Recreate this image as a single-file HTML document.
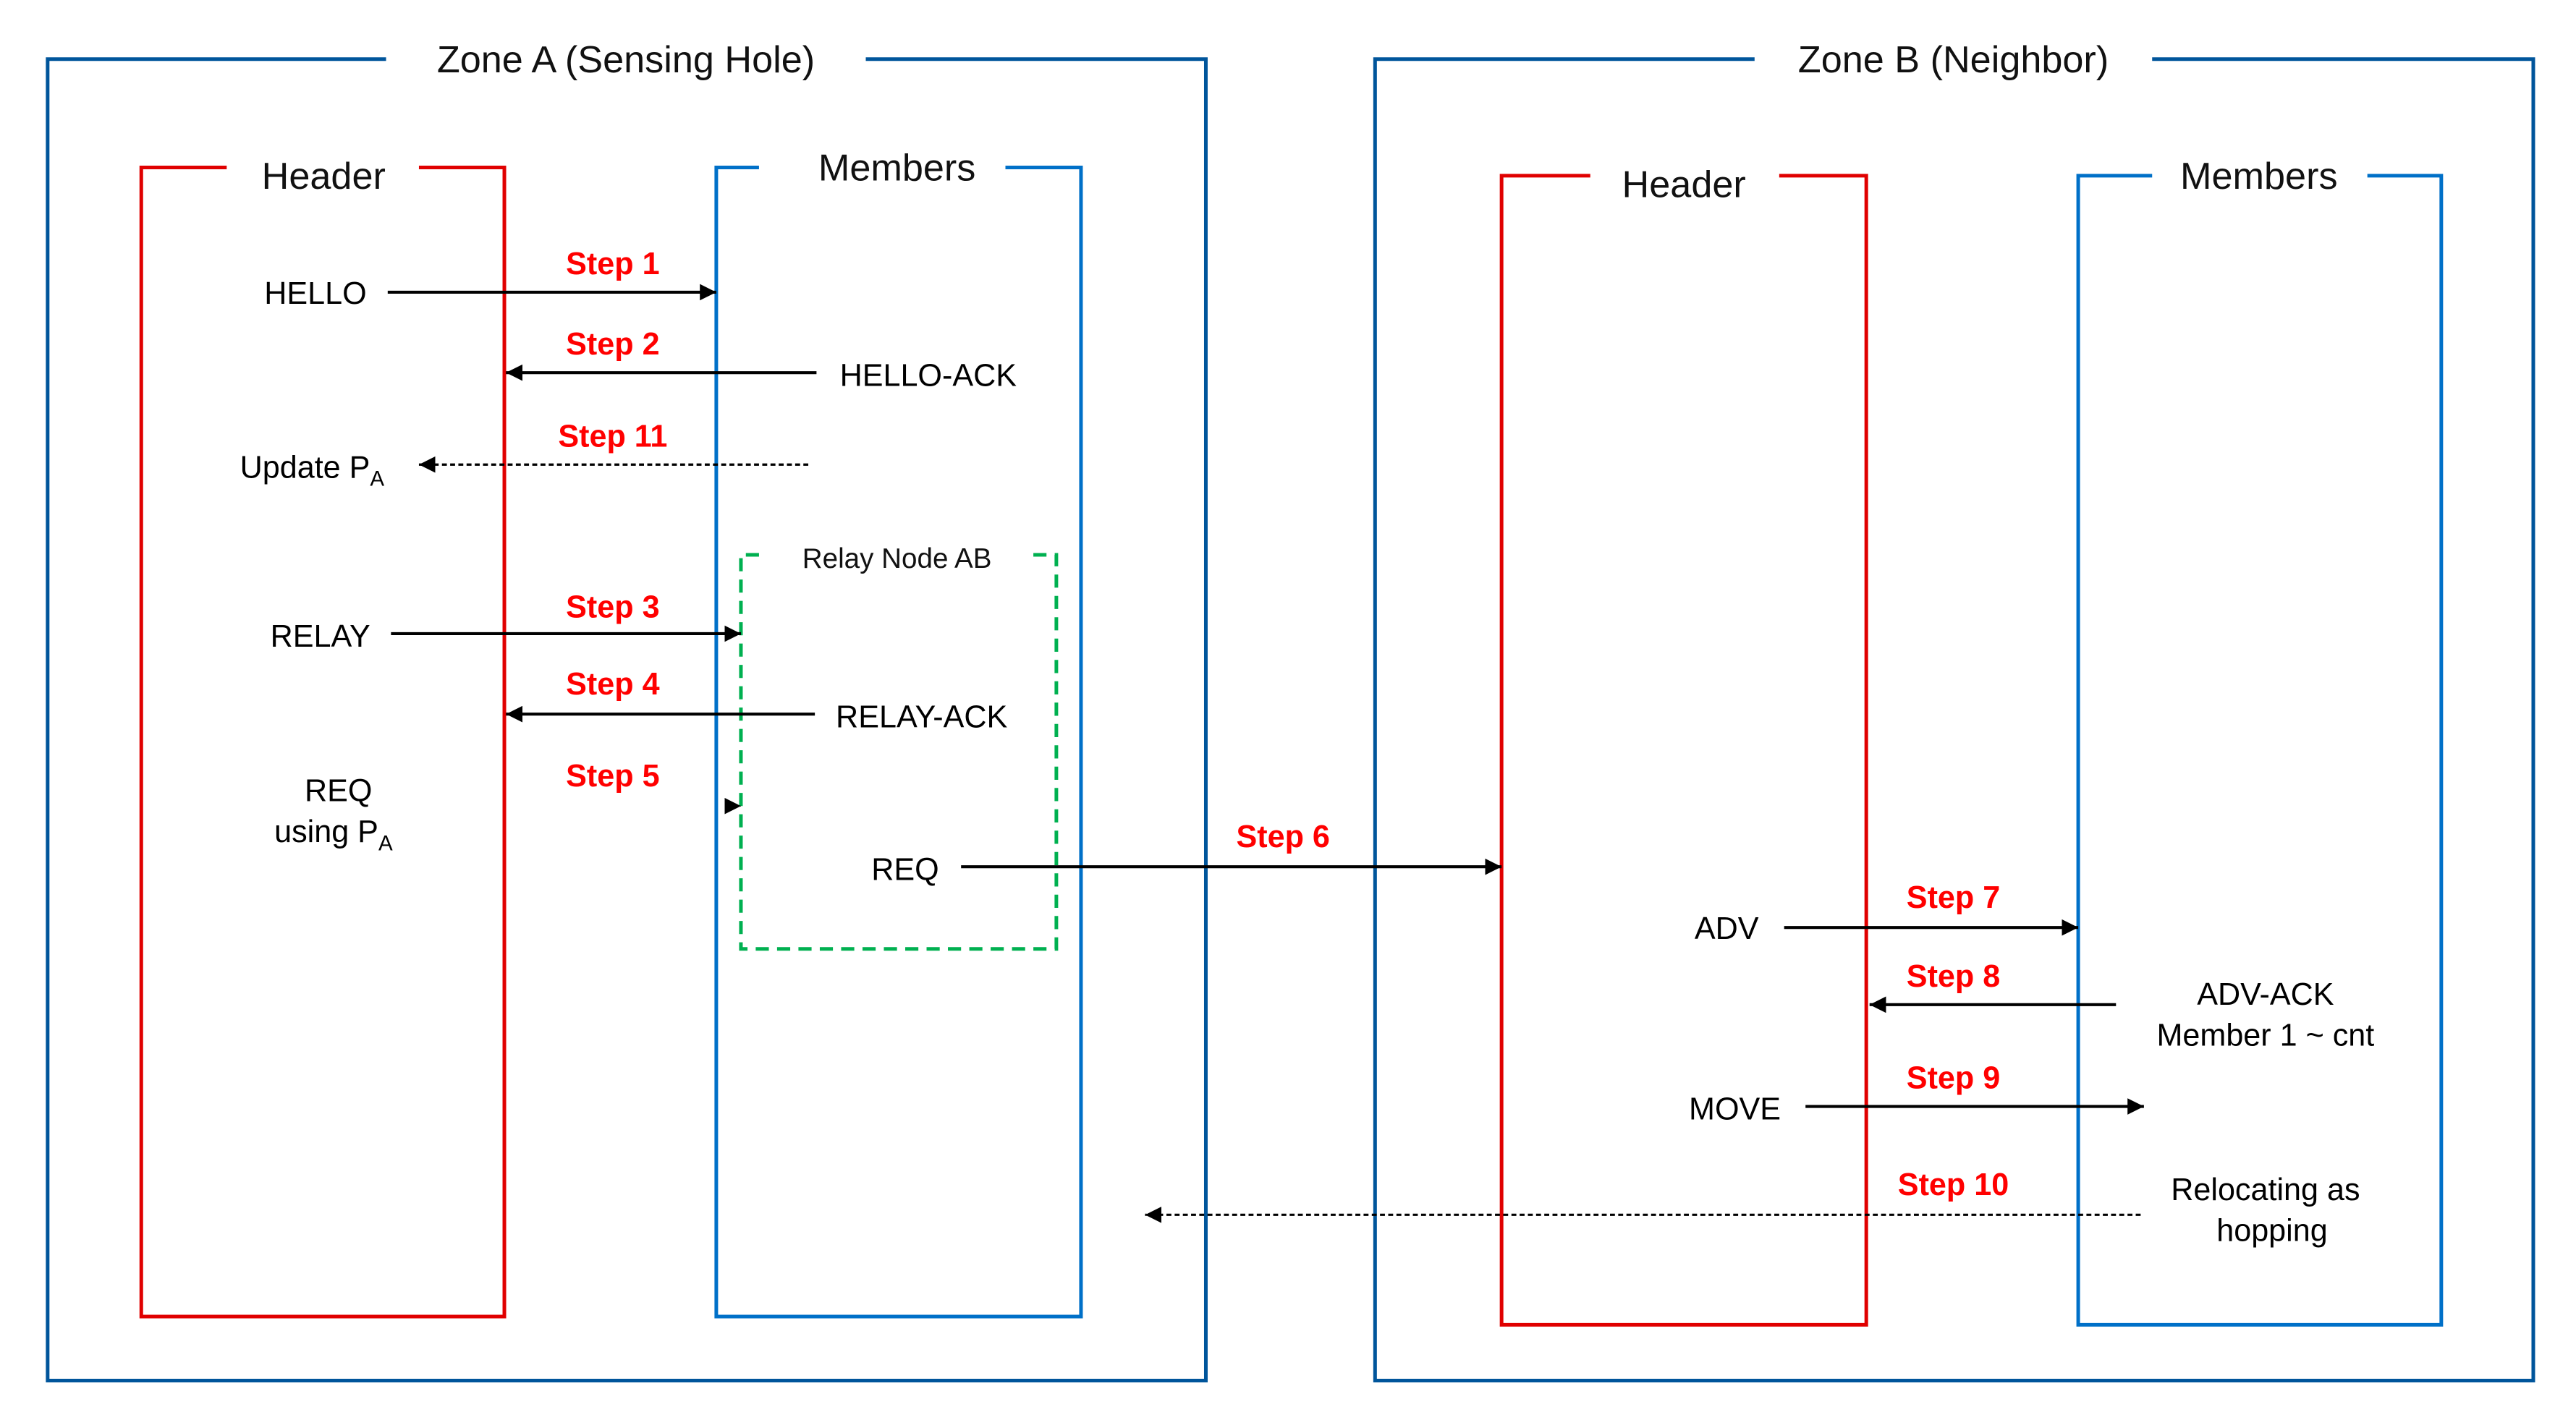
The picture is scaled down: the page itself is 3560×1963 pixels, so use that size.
<!DOCTYPE html>
<html><head><meta charset="utf-8"><style>
html,body{margin:0;padding:0;background:#fff;}
svg{display:block;}
text{font-family:"Liberation Sans",sans-serif;}
.t{font-size:19px;fill:#000;text-anchor:middle;}
.s{font-size:19px;fill:#ff0000;text-anchor:middle;font-weight:bold;}
.h{font-size:23px;fill:#111;text-anchor:middle;}
</style></head><body>
<svg width="3560" height="1963" viewBox="0 0 1568 865" preserveAspectRatio="none" xmlns="http://www.w3.org/2000/svg">
<defs>
<marker id="a" viewBox="0 0 10 10" refX="10" refY="5" markerWidth="10" markerHeight="10" markerUnits="userSpaceOnUse" orient="auto">
<path d="M0,0 L10,5 L0,10 z" fill="#000"/></marker>
</defs>
<g fill="none" stroke-width="2.2">
<path d="M235,36 H29 V841 H734 V36 H527" stroke="#00559b"/>
<path d="M138,102 H86 V802 H307 V102 H255" stroke="#e00000"/>
<path d="M462,102 H436 V802 H658 V102 H612" stroke="#0070c8"/>
<path d="M1068,36 H837 V841 H1542 V36 H1310" stroke="#00559b"/>
<path d="M968,107 H914 V807 H1136 V107 H1083" stroke="#e00000"/>
<path d="M1310,107 H1265 V807 H1486 V107 H1441" stroke="#0070c8"/>
<path d="M462,338 H451 V578 H643 V338 H627" stroke="#00b050" stroke-dasharray="8,5"/>
</g>
<text class="h" x="381" y="44">Zone A (Sensing Hole)</text>
<text class="h" x="197" y="115">Header</text>
<text class="h" x="546" y="110">Members</text>
<text class="h" x="1189" y="44">Zone B (Neighbor)</text>
<text class="h" x="1025" y="120">Header</text>
<text class="h" x="1375" y="115">Members</text>
<text x="546" y="346" style="font-size:17px;text-anchor:middle;fill:#111">Relay Node AB</text>

<g stroke="#000" stroke-width="1.8" fill="none">
<line x1="236" y1="178" x2="436" y2="178" marker-end="url(#a)"/>
<line x1="497" y1="227" x2="308" y2="227" marker-end="url(#a)"/>
<line x1="492" y1="283" x2="255" y2="283" marker-end="url(#a)" stroke-dasharray="3,2" stroke-width="1.4"/>
<line x1="238" y1="386" x2="451" y2="386" marker-end="url(#a)"/>
<line x1="496" y1="435" x2="308" y2="435" marker-end="url(#a)"/>
<line x1="442" y1="491" x2="451" y2="491" marker-end="url(#a)" stroke-width="0.5"/>
<line x1="585" y1="528" x2="914" y2="528" marker-end="url(#a)"/>
<line x1="1086" y1="565" x2="1265" y2="565" marker-end="url(#a)"/>
<line x1="1288" y1="612" x2="1138" y2="612" marker-end="url(#a)"/>
<line x1="1099" y1="674" x2="1305" y2="674" marker-end="url(#a)"/>
<line x1="1303" y1="740" x2="697" y2="740" marker-end="url(#a)" stroke-dasharray="3,2" stroke-width="1.4"/>
</g>

<text class="s" x="373" y="167">Step 1</text>
<text class="s" x="373" y="216">Step 2</text>
<text class="s" x="373" y="272">Step 11</text>
<text class="s" x="373" y="376">Step 3</text>
<text class="s" x="373" y="423">Step 4</text>
<text class="s" x="373" y="479">Step 5</text>
<text class="s" x="781" y="516">Step 6</text>
<text class="s" x="1189" y="553">Step 7</text>
<text class="s" x="1189" y="601">Step 8</text>
<text class="s" x="1189" y="663">Step 9</text>
<text class="s" x="1189" y="728">Step 10</text>

<text class="t" x="192" y="185">HELLO</text>
<text class="t" x="565" y="235">HELLO-ACK</text>
<text class="t" x="190" y="291">Update P<tspan style="font-size:13px" dy="5">A</tspan></text>
<text class="t" x="195" y="394">RELAY</text>
<text class="t" x="561" y="443">RELAY-ACK</text>
<text class="t" x="206" y="488">REQ</text>
<text class="t" x="203" y="513">using P<tspan style="font-size:13px" dy="5">A</tspan></text>
<text class="t" x="551" y="536">REQ</text>
<text class="t" x="1051" y="572">ADV</text>
<text class="t" x="1379" y="612">ADV-ACK</text>
<text class="t" x="1379" y="637">Member 1 ~ cnt</text>
<text class="t" x="1056" y="682">MOVE</text>
<text class="t" x="1379" y="731">Relocating as</text>
<text class="t" x="1383" y="756">hopping</text>
</svg>
</body></html>
